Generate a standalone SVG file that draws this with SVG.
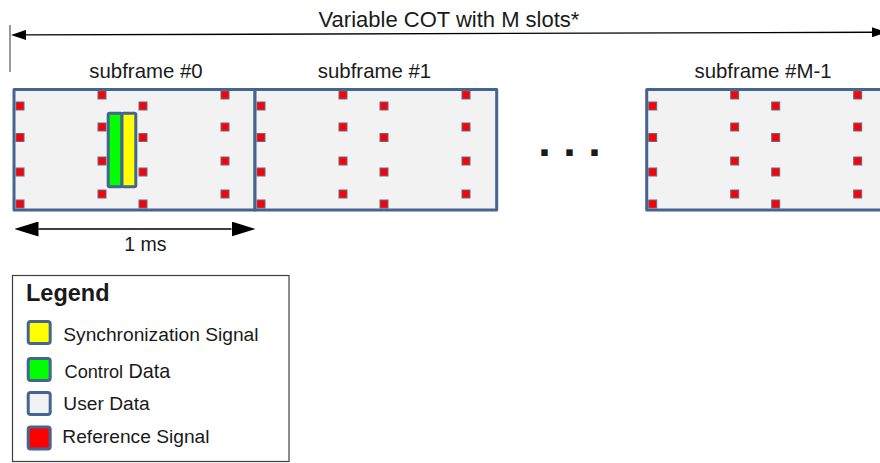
<svg xmlns="http://www.w3.org/2000/svg" width="880" height="463" viewBox="0 0 880 463">
  <style>
    text { font-family: "Liberation Sans", Arial, sans-serif; fill: #1a1a1a; }
    .frame { fill: #f2f2f2; stroke: #456590; stroke-width: 3; stroke-linejoin: round; }
    .rs { fill: #ff0000; stroke: #5a6f95; stroke-width: 1; }
    .ctrl { fill: #00ff00; stroke: #456590; stroke-width: 3; }
    .sync { fill: #ffff00; stroke: #456590; stroke-width: 3; }
    .icon { stroke: #456590; stroke-width: 3; }
    .lbl { font-size: 20.4px; text-anchor: middle; }
    .leg { font-size: 19.2px; }
    .dim { stroke: #000; stroke-width: 1.4; fill: none; }
  </style>
  <defs>
    <marker id="ahSmall" markerUnits="userSpaceOnUse" viewBox="0 0 15 10" markerWidth="15" markerHeight="10" refX="0" refY="5" orient="auto-start-reverse">
      <path d="M0,0 L15,5 L0,10 z" fill="#000"/>
    </marker>
    <marker id="ahBig" markerUnits="userSpaceOnUse" viewBox="0 0 24 15" markerWidth="24" markerHeight="15" refX="0" refY="7.5" orient="auto-start-reverse">
      <path d="M0,0 L24,7.5 L0,15 z" fill="#000"/>
    </marker>
    <g id="rsPattern">
      <rect class="rs" x="2" y="102" width="8" height="8"/>
      <rect class="rs" x="2" y="133.5" width="8" height="8"/>
      <rect class="rs" x="2" y="168" width="8" height="8"/>
      <rect class="rs" x="2" y="200" width="8" height="8"/>
      <rect class="rs" x="84" y="91" width="8" height="8"/>
      <rect class="rs" x="84" y="123" width="8" height="8"/>
      <rect class="rs" x="84" y="157" width="8" height="8"/>
      <rect class="rs" x="84" y="190" width="8" height="8"/>
      <rect class="rs" x="125" y="102" width="8" height="8"/>
      <rect class="rs" x="125" y="133.5" width="8" height="8"/>
      <rect class="rs" x="125" y="168" width="8" height="8"/>
      <rect class="rs" x="125" y="200" width="8" height="8"/>
      <rect class="rs" x="207" y="91" width="8" height="8"/>
      <rect class="rs" x="207" y="123" width="8" height="8"/>
      <rect class="rs" x="207" y="157" width="8" height="8"/>
      <rect class="rs" x="207" y="190" width="8" height="8"/>
    </g>
  </defs>

  <text x="449" y="26.5" font-size="22" text-anchor="middle">Variable COT with M slots*</text>

  <g id="subframe0">
    <rect class="frame" x="14" y="89.5" width="241" height="120.5"/>
    <use href="#rsPattern" x="14"/>
    <text class="lbl" x="146" y="77.5">subframe #0</text>
  </g>

  <g id="control-sync">
    <rect class="ctrl" x="108.2" y="113.2" width="13.8" height="73.6" rx="1.5"/>
    <rect class="sync" x="122" y="113.2" width="13.8" height="73.6" rx="1.5"/>
  </g>

  <g id="subframe1">
    <rect class="frame" x="255" y="89.5" width="241.7" height="120.5"/>
    <use href="#rsPattern" x="255"/>
    <text class="lbl" x="374.5" y="77.5">subframe #1</text>
  </g>

  <g id="ellipsis">
    <text x="569.5" y="155.5" font-size="45" font-weight="bold" text-anchor="middle" fill="#000">. . .</text>
  </g>

  <g id="subframeM1">
    <rect class="frame" x="646.7" y="89.5" width="241.7" height="120.5"/>
    <use href="#rsPattern" x="646.7"/>
    <text class="lbl" x="763" y="77.5">subframe #M-1</text>
  </g>

  <g id="connectors">
    <line x1="10" y1="25" x2="10" y2="72" stroke="#808080" stroke-width="1.6"/>
    <line class="dim" x1="26" y1="34.9" x2="872" y2="32.3" marker-start="url(#ahSmall)" marker-end="url(#ahSmall)"/>
    <line class="dim" x1="38.5" y1="229" x2="231.5" y2="229" marker-start="url(#ahBig)" marker-end="url(#ahBig)"/>
  </g>
  <text x="145.5" y="250.5" font-size="19.5" text-anchor="middle">1 ms</text>

  <g id="legend">
    <rect x="12.5" y="275.5" width="276.5" height="186" fill="#fff" stroke="#404040" stroke-width="1.2"/>
    <text x="26" y="300.5" font-size="23.5" font-weight="bold" fill="#000">Legend</text>
    <rect class="icon" x="28.2" y="321.5" width="22" height="22" rx="2.5" fill="#ffff00"/>
    <text class="leg" x="63.3" y="341">Synchronization Signal</text>
    <rect class="icon" x="28.2" y="358.5" width="22" height="22" rx="2.5" fill="#00ff00"/>
    <text class="leg" x="64.5" y="377.5"><tspan font-size="18.2">Control</tspan> <tspan font-size="19.8">Data</tspan></text>
    <rect class="icon" x="28.2" y="392.5" width="22" height="22" rx="2.5" fill="#f2f2f2"/>
    <text class="leg" x="63.3" y="410">User Data</text>
    <rect class="icon" x="28.2" y="427" width="22" height="22" rx="2.5" fill="#ff0000"/>
    <text class="leg" x="62.3" y="442.7">Reference Signal</text>
  </g>
</svg>
